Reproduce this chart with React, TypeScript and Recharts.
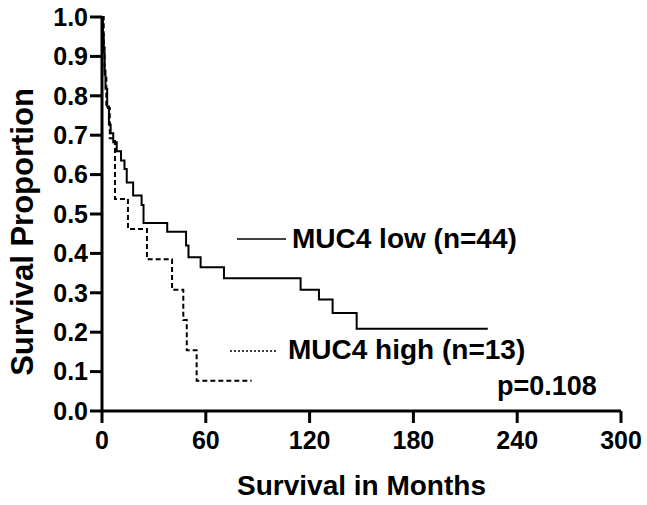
import React from 'react';
import { LineChart, Line, XAxis, YAxis, Label } from 'recharts';

// Kaplan-Meier steps: month of event, survival proportion after the event
const lowMonths = [0, 0.5, 1, 1.5, 2, 3, 4, 5, 6.5, 8.5, 11, 13, 14.3, 18, 22.9, 24, 37.7, 48.6, 50, 57, 70.5, 114.8, 125.4, 133.3, 147.2, 223];
const lowSurvival = [1.0, 0.955, 0.909, 0.864, 0.818, 0.773, 0.727, 0.705, 0.682, 0.659, 0.636, 0.614, 0.58, 0.547, 0.523, 0.477, 0.455, 0.42, 0.39, 0.365, 0.337, 0.308, 0.283, 0.249, 0.209, 0.209];

const highMonths = [0, 1, 1.5, 2.5, 4.5, 7.5, 15, 26, 40.5, 47, 49, 54.7, 86.5];
const highSurvival = [1.0, 0.923, 0.846, 0.769, 0.692, 0.538, 0.462, 0.385, 0.308, 0.231, 0.154, 0.077, 0.077];

const xTicks = [0, 60, 120, 180, 240, 300];
const yTicks = [0, 0.1, 0.2, 0.3, 0.4, 0.5, 0.6, 0.7, 0.8, 0.9, 1.0];

const lowLabel = 'MUC4 low (n=44)';
const highLabel = 'MUC4 high (n=13)';
const pValue = 'p=0.108';

const lowData = lowMonths.map((t, i) => ({ t, s: lowSurvival[i] }));
const highData = highMonths.map((t, i) => ({ t, s: highSurvival[i] }));

const FONT = '"Liberation Sans", Arial, sans-serif';

function Annotations() {
  return (
    <svg width={647} height={505} style={{ position: 'absolute', left: 0, top: 0, pointerEvents: 'none' }}>
      <g fontFamily={FONT} fontWeight="bold" fontSize={28} fill="#000">
        <line x1={237} y1={239} x2={286} y2={239} stroke="#000" strokeWidth={1.5} />
        <text x={292} y={248}>{lowLabel}</text>
        <line x1={230} y1={351} x2={278} y2={351} stroke="#000" strokeWidth={1.5} strokeDasharray="2 2" />
        <text x={288} y={359}>{highLabel}</text>
        <text x={497} y={395} fontSize={27}>{pValue}</text>
      </g>
    </svg>
  );
}

export default function App() {
  return (
    <div style={{ position: 'absolute', left: 0, top: 0, width: 647, height: 505, background: '#fff' }}>
      <LineChart width={647} height={505} margin={{ top: 17, right: 26, bottom: 0, left: 0 }}>
        <XAxis
          type="number"
          dataKey="t"
          domain={[0, 300]}
          ticks={xTicks}
          allowDataOverflow
          height={94}
          tickSize={12}
          tickMargin={8}
          stroke="#000"
          axisLine={{ stroke: '#000', strokeWidth: 3 }}
          tickLine={{ stroke: '#000', strokeWidth: 3 }}
          tick={{ fill: '#000', fontSize: 25, fontWeight: 'bold', fontFamily: FONT }}
        >
          <Label
            content={({ viewBox }: any) => (
              <text x={viewBox.x + viewBox.width / 2} y={495} textAnchor="middle"
                fontFamily={FONT} fontWeight="bold" fontSize={28} fill="#000">Survival in Months</text>
            )}
          />
        </XAxis>
        <YAxis
          type="number"
          domain={[0, 1]}
          ticks={yTicks}
          width={102}
          tickSize={12}
          tickMargin={2}
          tickFormatter={(v: number) => v.toFixed(1)}
          axisLine={{ stroke: '#000', strokeWidth: 3 }}
          tickLine={{ stroke: '#000', strokeWidth: 3 }}
          tick={{ fill: '#000', fontSize: 25, fontWeight: 'bold', fontFamily: FONT }}
        >
          <Label
            content={() => {
              const cx = 33;
              const cy = 232;
              return (
                <text x={cx} y={cy} textAnchor="middle" transform={`rotate(-90 ${cx} ${cy})`}
                  fontFamily={FONT} fontWeight="bold" fontSize={31} fill="#000">Survival Proportion</text>
              );
            }}
          />
        </YAxis>
        <Line data={lowData} dataKey="s" name={lowLabel} type="stepAfter" stroke="#000" strokeWidth={2}
          dot={false} isAnimationActive={false} />
        <Line data={highData} dataKey="s" name={highLabel} type="stepAfter" stroke="#000" strokeWidth={2}
          strokeDasharray="5 3" dot={false} isAnimationActive={false} />
      </LineChart>
      <Annotations />
    </div>
  );
}
